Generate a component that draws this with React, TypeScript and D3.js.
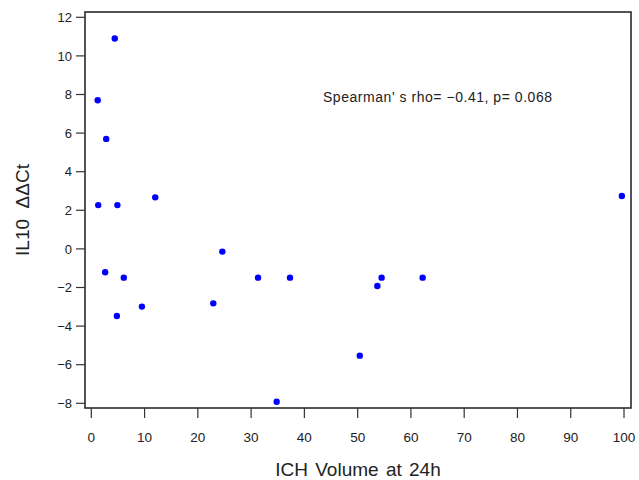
import React from 'react';
import * as d3 from 'd3';

// ICH volume (x) vs IL10 ddCt (y)
const volumes = [4.4, 1.2, 2.8, 1.3, 4.9, 12.0, 2.6, 6.1, 4.8, 9.5, 22.9, 24.6, 31.3, 37.3, 34.8, 50.4, 53.7, 54.5, 62.2, 99.6];
const ddct = [10.9, 7.7, 5.7, 2.27, 2.27, 2.67, -1.21, -1.49, -3.48, -2.99, -2.82, -0.14, -1.49, -1.49, -7.92, -5.53, -1.92, -1.49, -1.49, 2.74];
const xTicks = [0, 10, 20, 30, 40, 50, 60, 70, 80, 90, 100];
const yTicks = [-8, -6, -4, -2, 0, 2, 4, 6, 8, 10, 12];
const note = "Spearman' s rho= \u22120.41,  p= 0.068";

const W = 639;
const H = 480;
const box = { left: 85, right: 631, top: 12, bottom: 408 };
const FONT = "'Liberation Sans', Arial, Helvetica, sans-serif";
const INK = '#222';

const App = () => {
    const x = d3.scaleLinear([0, 100], [91.3, 624]);
    const y = d3.scaleLinear([-8, 12], [403.3, 17.3]);
    const fmt = (v: number) => (v < 0 ? `\u2212${Math.abs(v)}` : `${v}`);

    return (
        <svg
            width={W}
            height={H}
            style={{ position: 'absolute', left: 0, top: 0, background: '#fff' }}
            fontFamily={FONT}
        >
            <rect
                x={box.left}
                y={box.top}
                width={box.right - box.left}
                height={box.bottom - box.top}
                fill='none'
                stroke='#2a2a2a'
                strokeWidth={1.6}
            />
            {yTicks.map(t => (
                <g key={`y${t}`}>
                    <line x1={76} x2={box.left} y1={y(t)} y2={y(t)} stroke='#333' strokeWidth={1.2} />
                    <text x={72} y={y(t)} dy='0.36em' textAnchor='end' fontSize={13} fill={INK}>
                        {fmt(t)}
                    </text>
                </g>
            ))}
            {xTicks.map(t => (
                <g key={`x${t}`}>
                    <line x1={x(t)} x2={x(t)} y1={box.bottom} y2={418} stroke='#333' strokeWidth={1.2} />
                    <text x={x(t)} y={441.5} textAnchor='middle' fontSize={13.5} fill={INK}>
                        {t}
                    </text>
                </g>
            ))}
            {volumes.map((v, i) => (
                <circle key={i} cx={x(v)} cy={y(ddct[i])} r={3.2} fill='#0000ff' />
            ))}
            <text
                x={323}
                y={97}
                dy='0.36em'
                fontSize={14}
                fill={INK}
                textLength={229}
                lengthAdjust='spacing'
            >
                {note}
            </text>
            <text x={358} y={476} textAnchor='middle' fontSize={19} fill={INK} wordSpacing={2}>
                ICH Volume at 24h
            </text>
            <text
                transform={`translate(29,${(box.top + box.bottom) / 2}) rotate(-90)`}
                textAnchor='middle'
                fontSize={19}
                fill={INK}
            >
                IL10 {'\u00a0'}ΔΔCt
            </text>
        </svg>
    );
};

export default App;
